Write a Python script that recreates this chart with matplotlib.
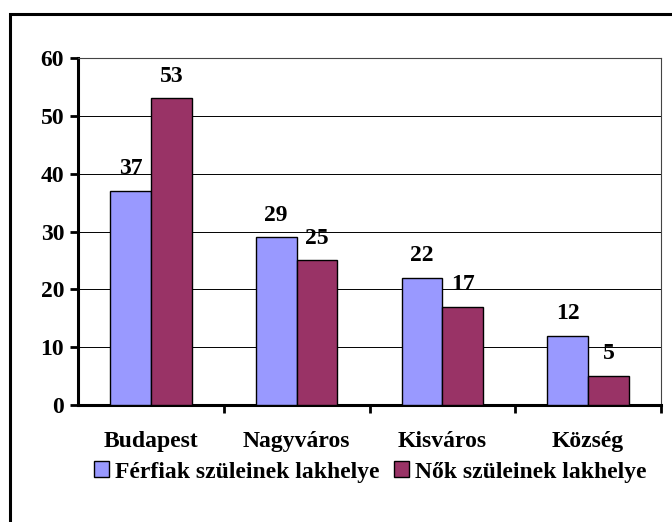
import matplotlib
matplotlib.use("Agg")
import matplotlib.pyplot as plt
from matplotlib.patches import Rectangle
import numpy as np

categories = ["Budapest", "Nagyváros", "Kisváros", "Község"]
ferfiak = [37, 29, 22, 12]
nok = [53, 25, 17, 5]
series_names = ["Férfiak szüleinek lakhelye", "Nők szüleinek lakhelye"]

plt.rcParams['font.family'] = ['Liberation Serif', 'DejaVu Serif']
plt.rcParams['font.weight'] = 'bold'

W, H = 672, 522
fig = plt.figure(figsize=(W / 100, H / 100), dpi=100)
ax = fig.add_axes([78 / W, 1 - 405 / H, (661 - 78) / W, (405 - 58) / H])

x = np.arange(len(categories))
bw = 0.28
b1 = ax.bar(x - bw / 2, ferfiak, bw, color="#9999FF", edgecolor="black", linewidth=1.0,
            label=series_names[0], zorder=3)
b2 = ax.bar(x + bw / 2, nok, bw, color="#993366", edgecolor="black", linewidth=1.0,
            label=series_names[1], zorder=3)

# adatcímkék
for bars, vals in ((b1, ferfiak), (b2, nok)):
    for rect, v in zip(bars, vals):
        ax.annotate(str(v), (rect.get_x() + rect.get_width() / 2, v),
                    xytext=(0, 16), textcoords="offset points",
                    ha="center", va="center", fontsize=17, fontweight="bold")

ax.set_xlim(-0.5, 3.5)
ax.set_ylim(0, 60)
ax.set_yticks(range(0, 61, 10))
ax.yaxis.grid(True, color="black", linewidth=0.7, zorder=0)
ax.set_axisbelow(True)

ax.set_xticks(x)
ax.set_xticklabels(categories)
ax.set_xticks(np.arange(0.5, 4, 1), minor=True)
ax.tick_params(axis="x", which="major", length=0, pad=19, labelsize=17)
ax.tick_params(axis="x", which="minor", length=6, width=2, direction="out")
ax.tick_params(axis="y", length=6, width=2, pad=4, labelsize=17)

for s in ("left", "bottom"):
    ax.spines[s].set_linewidth(2.2)
for s in ("top", "right"):
    ax.spines[s].set_linewidth(0.8)
    ax.spines[s].set_color("#444444")

fig.legend(handles=[b1, b2], loc="center", bbox_to_anchor=(0.551, 1 - 472 / H),
           ncol=2, frameon=False, fontsize=17, handlelength=0.65, handleheight=0.65,
           handletextpad=0.25, columnspacing=0.6, borderaxespad=0)

# külső keret
fig.patches.append(Rectangle((10 / W, -0.1), 1.2, 1 - 14 / H + 0.1, transform=fig.transFigure,
                             fill=False, edgecolor="black", linewidth=2.2))

fig.savefig("out.png", dpi=100)
